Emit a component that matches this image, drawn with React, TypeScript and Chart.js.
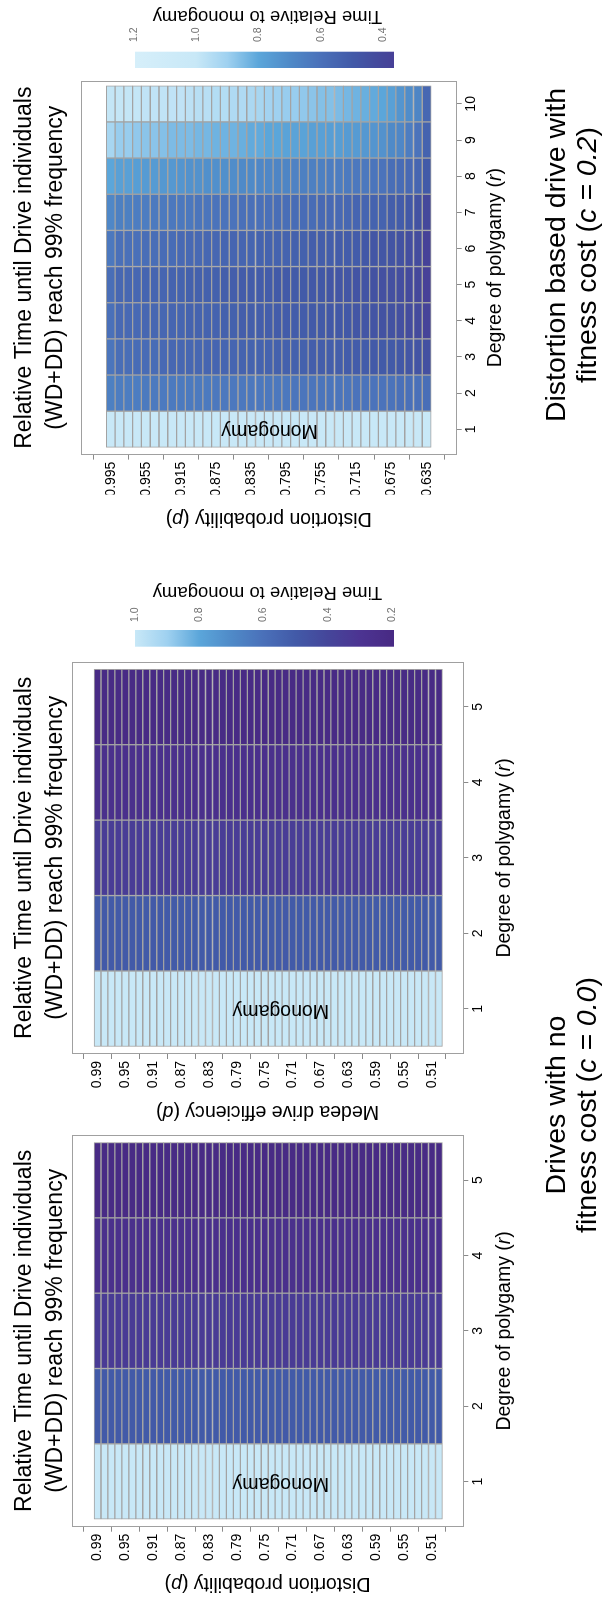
import React, { useEffect, useRef } from 'react';
import { Chart, registerables } from 'chart.js';

Chart.register(...registerables);

const FONT = '"Liberation Sans", Arial, Helvetica, sans-serif';
const FRAME_GREY = '#a0a0a0';
const CELL_LINE = '#a3a3a3';
const FIG_H = 602;

// ---- distortion probability / drive efficiency levels (rows) ----
const P_LEVELS_AB = [
  '0.99', '0.98', '0.97', '0.96', '0.95', '0.94', '0.93', '0.92', '0.91', '0.90',
  '0.89', '0.88', '0.87', '0.86', '0.85', '0.84', '0.83', '0.82', '0.81', '0.80',
  '0.79', '0.78', '0.77', '0.76', '0.75', '0.74', '0.73', '0.72', '0.71', '0.70',
  '0.69', '0.68', '0.67', '0.66', '0.65', '0.64', '0.63', '0.62', '0.61', '0.60',
  '0.59', '0.58', '0.57', '0.56', '0.55', '0.54', '0.53', '0.52', '0.51', '0.50',
];
const P_TICKS_AB = ['0.99', '0.95', '0.91', '0.87', '0.83', '0.79', '0.75', '0.71', '0.67', '0.63', '0.59', '0.55', '0.51'];

const P_LEVELS_C = [
  '0.995', '0.985', '0.975', '0.965', '0.955', '0.945', '0.935', '0.925', '0.915', '0.905',
  '0.895', '0.885', '0.875', '0.865', '0.855', '0.845', '0.835', '0.825', '0.815', '0.805',
  '0.795', '0.785', '0.775', '0.765', '0.755', '0.745', '0.735', '0.725', '0.715', '0.705',
  '0.695', '0.685', '0.675', '0.665', '0.655', '0.645', '0.635',
];
const P_TICKS_C = ['0.995', '0.955', '0.915', '0.875', '0.835', '0.795', '0.755', '0.715', '0.675', '0.635'];

// ---- degree of polygamy (columns) ----
const R_LEVELS_AB = [1, 2, 3, 4, 5];
const R_LEVELS_C = [1, 2, 3, 4, 5, 6, 7, 8, 9, 10];

// ---- relative time, distortion drive, c = 0.0 (one list per r) ----
const distR1 = [
  1.00, 1.00, 1.00, 1.00, 1.00, 1.00, 1.00, 1.00, 1.00, 1.00,
  1.00, 1.00, 1.00, 1.00, 1.00, 1.00, 1.00, 1.00, 1.00, 1.00,
  1.00, 1.00, 1.00, 1.00, 1.00, 1.00, 1.00, 1.00, 1.00, 1.00,
  1.00, 1.00, 1.00, 1.00, 1.00, 1.00, 1.00, 1.00, 1.00, 1.00,
  1.00, 1.00, 1.00, 1.00, 1.00, 1.00, 1.00, 1.00, 1.00, 1.00,
];
const distR2 = [
  0.50, 0.50, 0.50, 0.50, 0.50, 0.50, 0.50, 0.50, 0.50, 0.50,
  0.50, 0.50, 0.50, 0.50, 0.50, 0.50, 0.50, 0.50, 0.50, 0.50,
  0.50, 0.50, 0.50, 0.50, 0.50, 0.50, 0.50, 0.50, 0.50, 0.50,
  0.50, 0.50, 0.50, 0.50, 0.50, 0.50, 0.50, 0.50, 0.50, 0.50,
  0.50, 0.50, 0.50, 0.50, 0.50, 0.50, 0.50, 0.50, 0.50, 0.50,
];
const distR3 = [
  0.34, 0.34, 0.34, 0.34, 0.34, 0.34, 0.34, 0.34, 0.34, 0.34,
  0.34, 0.34, 0.34, 0.34, 0.34, 0.34, 0.34, 0.34, 0.34, 0.34,
  0.34, 0.34, 0.34, 0.34, 0.34, 0.34, 0.34, 0.34, 0.34, 0.34,
  0.34, 0.34, 0.34, 0.34, 0.34, 0.34, 0.34, 0.34, 0.34, 0.34,
  0.34, 0.34, 0.34, 0.34, 0.34, 0.34, 0.34, 0.34, 0.34, 0.34,
];
const distR4 = [
  0.26, 0.26, 0.26, 0.26, 0.26, 0.26, 0.26, 0.26, 0.26, 0.26,
  0.26, 0.26, 0.26, 0.26, 0.26, 0.26, 0.26, 0.26, 0.26, 0.26,
  0.26, 0.26, 0.26, 0.26, 0.26, 0.26, 0.26, 0.26, 0.26, 0.26,
  0.26, 0.26, 0.26, 0.26, 0.26, 0.26, 0.26, 0.26, 0.26, 0.26,
  0.26, 0.26, 0.26, 0.26, 0.26, 0.26, 0.26, 0.26, 0.26, 0.26,
];
const distR5 = [
  0.21, 0.21, 0.21, 0.21, 0.21, 0.21, 0.21, 0.21, 0.21, 0.21,
  0.21, 0.21, 0.21, 0.21, 0.21, 0.21, 0.21, 0.21, 0.21, 0.21,
  0.21, 0.21, 0.21, 0.21, 0.21, 0.21, 0.21, 0.21, 0.21, 0.21,
  0.21, 0.21, 0.21, 0.21, 0.21, 0.21, 0.21, 0.21, 0.21, 0.21,
  0.21, 0.21, 0.21, 0.21, 0.21, 0.21, 0.21, 0.21, 0.21, 0.21,
];

// ---- relative time, Medea drive, c = 0.0 ----
const medeaR1 = [
  1.00, 1.00, 1.00, 1.00, 1.00, 1.00, 1.00, 1.00, 1.00, 1.00,
  1.00, 1.00, 1.00, 1.00, 1.00, 1.00, 1.00, 1.00, 1.00, 1.00,
  1.00, 1.00, 1.00, 1.00, 1.00, 1.00, 1.00, 1.00, 1.00, 1.00,
  1.00, 1.00, 1.00, 1.00, 1.00, 1.00, 1.00, 1.00, 1.00, 1.00,
  1.00, 1.00, 1.00, 1.00, 1.00, 1.00, 1.00, 1.00, 1.00, 1.00,
];
const medeaR2 = [
  0.50, 0.50, 0.50, 0.50, 0.50, 0.50, 0.50, 0.50, 0.50, 0.50,
  0.50, 0.50, 0.50, 0.50, 0.50, 0.50, 0.50, 0.50, 0.50, 0.50,
  0.50, 0.50, 0.50, 0.50, 0.50, 0.50, 0.50, 0.50, 0.50, 0.50,
  0.50, 0.50, 0.50, 0.50, 0.50, 0.50, 0.50, 0.50, 0.50, 0.50,
  0.50, 0.50, 0.50, 0.50, 0.50, 0.50, 0.50, 0.50, 0.50, 0.50,
];
const medeaR3 = [
  0.35, 0.35, 0.35, 0.35, 0.35, 0.35, 0.35, 0.35, 0.35, 0.35,
  0.35, 0.35, 0.35, 0.35, 0.35, 0.35, 0.35, 0.35, 0.35, 0.35,
  0.35, 0.35, 0.35, 0.35, 0.35, 0.35, 0.35, 0.35, 0.35, 0.35,
  0.35, 0.35, 0.35, 0.35, 0.35, 0.35, 0.35, 0.35, 0.35, 0.35,
  0.35, 0.35, 0.35, 0.35, 0.35, 0.35, 0.35, 0.35, 0.35, 0.35,
];
const medeaR4 = [
  0.26, 0.26, 0.26, 0.26, 0.26, 0.26, 0.26, 0.26, 0.26, 0.26,
  0.26, 0.26, 0.26, 0.26, 0.26, 0.26, 0.26, 0.26, 0.26, 0.26,
  0.26, 0.26, 0.26, 0.26, 0.26, 0.26, 0.26, 0.26, 0.26, 0.26,
  0.26, 0.26, 0.26, 0.26, 0.26, 0.26, 0.26, 0.26, 0.26, 0.26,
  0.26, 0.26, 0.26, 0.26, 0.26, 0.26, 0.26, 0.26, 0.26, 0.26,
];
const medeaR5 = [
  0.21, 0.21, 0.21, 0.21, 0.21, 0.21, 0.21, 0.21, 0.21, 0.21,
  0.21, 0.21, 0.21, 0.21, 0.21, 0.21, 0.21, 0.21, 0.21, 0.21,
  0.21, 0.21, 0.21, 0.21, 0.21, 0.21, 0.21, 0.21, 0.21, 0.21,
  0.21, 0.21, 0.21, 0.21, 0.21, 0.21, 0.21, 0.21, 0.21, 0.21,
  0.21, 0.21, 0.21, 0.21, 0.21, 0.21, 0.21, 0.21, 0.21, 0.21,
];

// ---- relative time, distortion drive with fitness cost c = 0.2 ----
const costR1 = [
  1.00, 1.00, 1.00, 1.00, 1.00, 1.00, 1.00, 1.00, 1.00, 1.00,
  1.00, 1.00, 1.00, 1.00, 1.00, 1.00, 1.00, 1.00, 1.00, 1.00,
  1.00, 1.00, 1.00, 1.00, 1.00, 1.00, 1.00, 1.00, 1.00, 1.00,
  1.00, 1.00, 1.00, 1.00, 1.00, 1.00, 1.00,
];
const costR2 = [
  0.66, 0.65, 0.65, 0.65, 0.64, 0.64, 0.64, 0.64, 0.64, 0.64,
  0.64, 0.64, 0.63, 0.63, 0.63, 0.63, 0.63, 0.63, 0.63, 0.63,
  0.63, 0.62, 0.62, 0.62, 0.62, 0.62, 0.62, 0.62, 0.61, 0.61,
  0.61, 0.61, 0.61, 0.60, 0.60, 0.60, 0.59,
];
const costR3 = [
  0.62, 0.59, 0.59, 0.58, 0.58, 0.58, 0.57, 0.56, 0.56, 0.56,
  0.56, 0.55, 0.55, 0.55, 0.55, 0.54, 0.54, 0.54, 0.54, 0.53,
  0.53, 0.53, 0.53, 0.52, 0.52, 0.52, 0.52, 0.51, 0.51, 0.51,
  0.50, 0.50, 0.50, 0.49, 0.48, 0.47, 0.45,
];
const costR4 = [
  0.60, 0.57, 0.57, 0.57, 0.56, 0.56, 0.56, 0.55, 0.55, 0.54,
  0.54, 0.54, 0.54, 0.53, 0.53, 0.52, 0.52, 0.52, 0.52, 0.51,
  0.51, 0.51, 0.51, 0.50, 0.50, 0.49, 0.49, 0.49, 0.48, 0.48,
  0.47, 0.46, 0.46, 0.45, 0.43, 0.42, 0.39,
];
const costR5 = [
  0.59, 0.56, 0.56, 0.56, 0.55, 0.55, 0.55, 0.54, 0.54, 0.53,
  0.53, 0.53, 0.53, 0.52, 0.52, 0.51, 0.51, 0.51, 0.51, 0.50,
  0.50, 0.50, 0.50, 0.49, 0.49, 0.48, 0.48, 0.48, 0.47, 0.47,
  0.46, 0.45, 0.45, 0.44, 0.42, 0.41, 0.37,
];
const costR6 = [
  0.63, 0.60, 0.60, 0.60, 0.59, 0.59, 0.58, 0.58, 0.57, 0.57,
  0.57, 0.56, 0.56, 0.55, 0.55, 0.55, 0.55, 0.54, 0.54, 0.54,
  0.54, 0.53, 0.53, 0.52, 0.52, 0.52, 0.51, 0.51, 0.51, 0.49,
  0.48, 0.48, 0.47, 0.46, 0.44, 0.43, 0.38,
];
const costR7 = [
  0.69, 0.66, 0.66, 0.65, 0.65, 0.64, 0.64, 0.63, 0.63, 0.63,
  0.62, 0.62, 0.61, 0.61, 0.61, 0.60, 0.60, 0.60, 0.60, 0.59,
  0.59, 0.58, 0.58, 0.58, 0.57, 0.57, 0.57, 0.56, 0.55, 0.55,
  0.54, 0.54, 0.52, 0.51, 0.49, 0.46, 0.41,
];
const costR8 = [
  0.80, 0.78, 0.78, 0.77, 0.76, 0.76, 0.75, 0.75, 0.74, 0.73,
  0.73, 0.72, 0.72, 0.72, 0.71, 0.70, 0.70, 0.69, 0.69, 0.68,
  0.68, 0.67, 0.66, 0.66, 0.66, 0.65, 0.65, 0.64, 0.63, 0.63,
  0.62, 0.61, 0.59, 0.58, 0.57, 0.55, 0.50,
];
const costR9 = [
  0.92, 0.89, 0.89, 0.88, 0.87, 0.87, 0.86, 0.85, 0.85, 0.85,
  0.84, 0.84, 0.83, 0.83, 0.83, 0.82, 0.81, 0.81, 0.80, 0.80,
  0.79, 0.79, 0.79, 0.78, 0.78, 0.77, 0.77, 0.76, 0.76, 0.75,
  0.74, 0.73, 0.70, 0.69, 0.65, 0.61, 0.54,
];
const costR10 = [
  0.99, 0.99, 0.99, 0.99, 0.98, 0.98, 0.98, 0.98, 0.98, 0.97,
  0.96, 0.96, 0.95, 0.95, 0.94, 0.94, 0.93, 0.92, 0.91, 0.90,
  0.89, 0.89, 0.88, 0.87, 0.86, 0.86, 0.85, 0.84, 0.83, 0.82,
  0.81, 0.80, 0.78, 0.74, 0.71, 0.68, 0.56,
];

// ---- colour ramp: light sky blue -> blue -> deep purple ----
const RAMP_VALUES = [1.2, 1.0, 0.9, 0.8, 0.7, 0.6, 0.5, 0.4, 0.3, 0.2];
const RAMP_COLOURS = ['#d6effa', '#c8e8f7', '#9fd1f0', '#5ba6da', '#4f8ac8', '#4a70b9', '#425aa8', '#45469a', '#4c3492', '#482a84'];

const LEGEND_TICKS_AB = [1.0, 0.8, 0.6, 0.4, 0.2];
const LEGEND_TICKS_C = [1.2, 1.0, 0.8, 0.6, 0.4];

function hexToRgb(h: string) {
  const n = parseInt(h.slice(1), 16);
  return [(n >> 16) & 255, (n >> 8) & 255, n & 255];
}

function colourFor(v: number): string {
  if (v >= RAMP_VALUES[0]) return RAMP_COLOURS[0];
  const last = RAMP_VALUES.length - 1;
  if (v <= RAMP_VALUES[last]) return RAMP_COLOURS[last];
  for (let k = 0; k < last; k++) {
    const hi = RAMP_VALUES[k];
    const lo = RAMP_VALUES[k + 1];
    if (v <= hi && v >= lo) {
      const t = (hi - v) / (hi - lo);
      const a = hexToRgb(RAMP_COLOURS[k]);
      const b = hexToRgb(RAMP_COLOURS[k + 1]);
      const c = a.map((x, i) => Math.round(x + (b[i] - x) * t));
      return `rgb(${c[0]},${c[1]},${c[2]})`;
    }
  }
  return RAMP_COLOURS[last];
}

type Part = { text: string; italic?: boolean };

function drawParts(ctx: CanvasRenderingContext2D, parts: Part[], size: number, x: number, y: number) {
  const fonts = parts.map((p) => `${p.italic ? 'italic ' : ''}${size}px ${FONT}`);
  const widths = parts.map((p, k) => {
    ctx.font = fonts[k];
    return ctx.measureText(p.text).width;
  });
  const total = widths.reduce((s, w) => s + w, 0);
  let cx = x - total / 2;
  ctx.textAlign = 'left';
  ctx.textBaseline = 'alphabetic';
  parts.forEach((p, k) => {
    ctx.font = fonts[k];
    ctx.fillText(p.text, cx, y);
    cx += widths[k];
  });
}

type LegendSpec = {
  barLeft: number;
  barRight: number;
  barTop: number;
  barBottom: number;
  topValue: number;
  bottomValue: number;
  ticks: number[];
  labelX: number;
  titleX: number;
};

type PanelSpec = {
  left: number;
  width: number;
  area: { left: number; right: number; top: number; bottom: number };
  rLevels: number[];
  rRange: [number, number];
  pLevels: string[];
  pTicks: string[];
  pRange: [number, number];
  rows: number[][];
  title: string[];
  titleY: [number, number];
  xTitle: Part[];
  xTitleY: number;
  yTitle: Part[];
  yTitleX: number;
  monoAt: number;
  legend?: LegendSpec;
};

const AXIS_W = 40;
const AXIS_H = 40;

function HeatPanel({ spec }: { spec: PanelSpec }) {
  const ref = useRef<HTMLCanvasElement>(null);

  useEffect(() => {
    const canvas = ref.current;
    if (!canvas) return;
    const s = spec;
    const tickIdx = s.pTicks.map((t) => s.pLevels.indexOf(t));

    const datasets = s.rLevels.map((r, k) => ({
      label: `r = ${r}`,
      data: s.rows[k].map((_v, i) => ({ y: i, x: [r - 0.5, r + 0.5] })),
      backgroundColor: s.rows[k].map(colourFor),
      borderColor: CELL_LINE,
      borderWidth: 1,
      borderSkipped: false as const,
      grouped: false,
      barPercentage: 1,
      categoryPercentage: 1,
    }));

    const decor = {
      id: 'panelDecor',
      afterDraw(chart: Chart) {
        const { ctx, chartArea: a } = chart;
        const xs = chart.scales.x;
        const ys = chart.scales.y;
        ctx.save();

        // plot frame
        ctx.strokeStyle = FRAME_GREY;
        ctx.lineWidth = 1;
        ctx.strokeRect(Math.round(a.left) + 0.5, Math.round(a.top) + 0.5, Math.round(a.right - a.left) - 1, Math.round(a.bottom - a.top) - 1);

        ctx.fillStyle = '#000';
        const cx = (a.left + a.right) / 2;
        const cy = (a.top + a.bottom) / 2;

        // main title
        drawParts(ctx, [{ text: s.title[0] }], 23, cx, s.titleY[0]);
        drawParts(ctx, [{ text: s.title[1] }], 23, cx, s.titleY[1]);

        // axis titles
        drawParts(ctx, s.xTitle, 19.5, cx, s.xTitleY);
        ctx.save();
        ctx.translate(s.yTitleX, cy);
        ctx.rotate(-Math.PI / 2);
        drawParts(ctx, s.yTitle, 19.5, 0, 0);
        ctx.restore();

        // monogamy column label
        ctx.save();
        ctx.translate(xs.getPixelForValue(1) + 4, ys.getPixelForValue(s.monoAt));
        ctx.rotate(-Math.PI / 2);
        drawParts(ctx, [{ text: 'Monogamy' }], 19.5, 0, 0);
        ctx.restore();

        // colour key
        const L = s.legend;
        if (L) {
          const grad = ctx.createLinearGradient(0, L.barTop, 0, L.barBottom);
          const span = L.topValue - L.bottomValue;
          grad.addColorStop(0, colourFor(L.topValue));
          RAMP_VALUES.forEach((v) => {
            if (v < L.topValue && v > L.bottomValue) grad.addColorStop((L.topValue - v) / span, colourFor(v));
          });
          grad.addColorStop(1, colourFor(L.bottomValue));
          ctx.fillStyle = grad;
          ctx.fillRect(L.barLeft, L.barTop, L.barRight - L.barLeft, L.barBottom - L.barTop);

          const pxPer = (L.barBottom - L.barTop) / span;
          ctx.fillStyle = '#6e6e6e';
          ctx.font = `10.5px ${FONT}`;
          ctx.textAlign = 'left';
          ctx.textBaseline = 'middle';
          L.ticks.forEach((t) => {
            ctx.fillText(t.toFixed(1), L.labelX, L.barTop + (L.topValue - t) * pxPer);
          });

          ctx.fillStyle = '#000';
          ctx.save();
          ctx.translate(L.titleX, (L.barTop + L.barBottom) / 2 + 3);
          ctx.rotate(-Math.PI / 2);
          drawParts(ctx, [{ text: 'Time Relative to monogamy' }], 18.5, 0, 0);
          ctx.restore();
        }
        ctx.restore();
      },
    };

    const tickFont = { family: FONT, size: 14 };
    const chart = new Chart(canvas, {
      type: 'bar',
      data: { datasets: datasets as any },
      options: {
        indexAxis: 'y',
        animation: false,
        responsive: false,
        events: [],
        layout: {
          padding: {
            left: s.area.left - AXIS_W,
            right: s.width - s.area.right,
            top: s.area.top,
            bottom: FIG_H - s.area.bottom - AXIS_H,
          },
        },
        plugins: { legend: { display: false }, tooltip: { enabled: false }, title: { display: false } },
        scales: {
          x: {
            type: 'linear',
            position: 'bottom',
            min: s.rRange[0],
            max: s.rRange[1],
            afterBuildTicks: (sc: any) => {
              sc.ticks = s.rLevels.map((v) => ({ value: v }));
            },
            afterFit: (sc: any) => {
              sc.height = AXIS_H;
            },
            ticks: { callback: (v: any) => String(v), font: tickFont, color: '#000', padding: 1, maxRotation: 0, autoSkip: false },
            grid: { drawOnChartArea: false, drawTicks: true, tickLength: 5, color: '#8a8a8a' },
            border: { display: false },
          },
          y: {
            type: 'linear',
            position: 'left',
            reverse: true,
            min: s.pRange[0],
            max: s.pRange[1],
            afterBuildTicks: (sc: any) => {
              sc.ticks = tickIdx.map((v) => ({ value: v }));
            },
            afterFit: (sc: any) => {
              sc.width = AXIS_W;
            },
            ticks: { callback: (v: any) => s.pLevels[v], font: tickFont, color: '#000', padding: 2, autoSkip: false },
            grid: { drawOnChartArea: false, drawTicks: true, tickLength: 5, color: '#8a8a8a' },
            border: { display: false },
          },
        },
      } as any,
      plugins: [decor],
    });
    return () => chart.destroy();
  }, [spec]);

  return (
    <canvas
      ref={ref}
      width={spec.width}
      height={FIG_H}
      style={{ position: 'absolute', left: spec.left, top: 0, width: spec.width, height: FIG_H }}
    />
  );
}

const TITLE = ['Relative Time until Drive individuals', '(WD+DD) reach 99% frequency'];
const R_TITLE: Part[] = [{ text: 'Degree of polygamy (' }, { text: 'r', italic: true }, { text: ')' }];

const PANEL_A: PanelSpec = {
  left: 0,
  width: 530,
  area: { left: 73.3, right: 465, top: 71.7, bottom: 463.3 },
  rLevels: R_LEVELS_AB,
  rRange: [0.4, 5.6],
  pLevels: P_LEVELS_AB,
  pTicks: P_TICKS_AB,
  pRange: [-1.54, 50.33],
  rows: [distR1, distR2, distR3, distR4, distR5],
  title: TITLE,
  titleY: [31, 62],
  xTitle: R_TITLE,
  xTitleY: 510,
  yTitle: [{ text: 'Distortion probability (' }, { text: 'p', italic: true }, { text: ')' }],
  yTitleX: 22,
  monoAt: 26.3,
};

const PANEL_B: PanelSpec = {
  left: 470,
  width: 640,
  area: { left: 76, right: 468.3, top: 71.7, bottom: 463.3 },
  rLevels: R_LEVELS_AB,
  rRange: [0.4, 5.6],
  pLevels: P_LEVELS_AB,
  pTicks: P_TICKS_AB,
  pRange: [-1.54, 50.33],
  rows: [medeaR1, medeaR2, medeaR3, medeaR4, medeaR5],
  title: TITLE,
  titleY: [31, 62],
  xTitle: R_TITLE,
  xTitleY: 510,
  yTitle: [{ text: 'Medea drive efficiency (' }, { text: 'd', italic: true }, { text: ')' }],
  yTitleX: 24,
  monoAt: 26.3,
  legend: {
    barLeft: 483.3,
    barRight: 500,
    barTop: 135,
    barBottom: 394,
    topValue: 1.0,
    bottomValue: 0.194,
    ticks: LEGEND_TICKS_AB,
    labelX: 508,
    titleX: 543,
  },
};

const PANEL_C: PanelSpec = {
  left: 1030,
  width: 570,
  area: { left: 115.4, right: 489.3, top: 80.7, bottom: 456.7 },
  rLevels: R_LEVELS_C,
  rRange: [0.3, 10.64],
  pLevels: P_LEVELS_C,
  pTicks: P_TICKS_C,
  pRange: [-1.28, 37.28],
  rows: [costR1, costR2, costR3, costR4, costR5, costR6, costR7, costR8, costR9, costR10],
  title: TITLE,
  titleY: [31, 62],
  xTitle: R_TITLE,
  xTitleY: 501,
  yTitle: [{ text: 'Distortion probability (' }, { text: 'p', italic: true }, { text: ')' }],
  yTitleX: 57,
  monoAt: 18.1,
  legend: {
    barLeft: 502,
    barRight: 518.3,
    barTop: 135,
    barBottom: 394,
    topValue: 1.196,
    bottomValue: 0.366,
    ticks: LEGEND_TICKS_C,
    labelX: 528,
    titleX: 559,
  },
};

const subtitleStyle = (centreX: number): React.CSSProperties => ({
  position: 'absolute',
  left: centreX - 300,
  width: 600,
  top: 540,
  textAlign: 'center',
  fontFamily: FONT,
  fontSize: 28.5,
  lineHeight: '31px',
  color: '#000',
  whiteSpace: 'nowrap',
});

export default function App() {
  return (
    <div style={{ position: 'absolute', left: 0, top: 0, width: 602, height: 1600, overflow: 'hidden', background: '#fff' }}>
      <div
        style={{
          position: 'absolute',
          left: 0,
          top: 0,
          width: 1600,
          height: FIG_H,
          transformOrigin: '0 0',
          transform: 'translate(0px, 1600px) rotate(-90deg)',
        }}
      >
        <HeatPanel spec={PANEL_A} />
        <HeatPanel spec={PANEL_B} />
        <HeatPanel spec={PANEL_C} />
        <div style={subtitleStyle(495)}>
          Drives with no
          <br />
          fitness cost (<i>c = 0.0</i>)
        </div>
        <div style={subtitleStyle(1345)}>
          Distortion based drive with
          <br />
          fitness cost (<i>c = 0.2</i>)
        </div>
      </div>
    </div>
  );
}
